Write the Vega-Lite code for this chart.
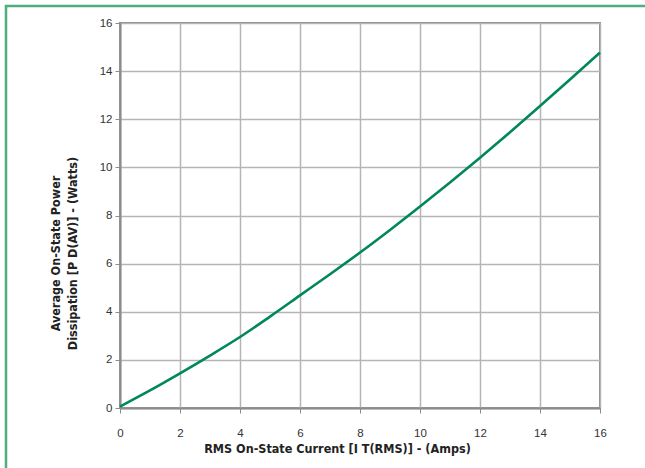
{
  "$schema": "https://vega.github.io/schema/vega-lite/v6.json",
  "width": 480,
  "height": 385,
  "autosize": {"type": "none"},
  "padding": {"left": 120, "top": 23, "right": 45, "bottom": 60},
  "background": "white",
  "config": {
    "view": {"stroke": "#8c8c8c", "strokeWidth": 2},
    "axis": {
      "labelFont": "Liberation Sans",
      "labelFontSize": 11.5,
      "labelColor": "#333333",
      "labelFlush": false,
      "titleFont": "DejaVu Sans Condensed",
      "titleFontSize": 12.5,
      "titleFontWeight": "bold",
      "titleColor": "#222222",
      "grid": true,
      "gridColor": "#b5b5b5",
      "gridWidth": 1.5,
      "domainColor": "#8c8c8c",
      "domainWidth": 2,
      "tickColor": "#8c8c8c",
      "tickSize": 5,
      "tickWidth": 1
    }
  },
  "layer": [
    {
      "data": {
        "values": [
          {"current": 0, "power": 0.06},
          {"current": 1, "power": 0.73},
          {"current": 2, "power": 1.44},
          {"current": 3, "power": 2.18},
          {"current": 4, "power": 2.95},
          {"current": 5, "power": 3.8},
          {"current": 6, "power": 4.68},
          {"current": 7, "power": 5.56},
          {"current": 8, "power": 6.46},
          {"current": 9, "power": 7.4},
          {"current": 10, "power": 8.37},
          {"current": 11, "power": 9.37},
          {"current": 12, "power": 10.4},
          {"current": 13, "power": 11.46},
          {"current": 14, "power": 12.55},
          {"current": 15, "power": 13.65},
          {"current": 16, "power": 14.77}
        ]
      },
      "mark": {"type": "line", "color": "#00875a", "strokeWidth": 2.6, "interpolate": "monotone"},
      "encoding": {
        "x": {
          "field": "current",
          "type": "quantitative",
          "scale": {"domain": [0, 16], "nice": false},
          "axis": {
            "values": [0, 2, 4, 6, 8, 10, 12, 14, 16],
            "grid": true,
            "labelPadding": 14,
            "title": "RMS On-State Current [I T(RMS)] - (Amps)",
            "titleX": 217,
            "titleY": 44,
            "titleAlign": "center",
            "titleBaseline": "alphabetic"
          }
        },
        "y": {
          "field": "power",
          "type": "quantitative",
          "scale": {"domain": [0, 16], "nice": false},
          "axis": {
            "values": [0, 2, 4, 6, 8, 10, 12, 14, 16],
            "grid": true,
            "labelPadding": 3,
            "title": ["Average On-State Power", "Dissipation [P D(AV)] - (Watts)"],
            "titleLineHeight": 17,
            "titleX": -58,
            "titleY": 230,
            "titleAlign": "center"
          }
        }
      }
    },
    {
      "data": {"values": [{}]},
      "mark": {"type": "rect", "filled": false, "stroke": "#4fae80", "strokeWidth": 2.5, "clip": false},
      "encoding": {
        "x": {"datum": -3.8, "type": "quantitative"},
        "x2": {"datum": 18},
        "y": {"datum": 16.71, "type": "quantitative"},
        "y2": {"datum": -3}
      }
    }
  ]
}
